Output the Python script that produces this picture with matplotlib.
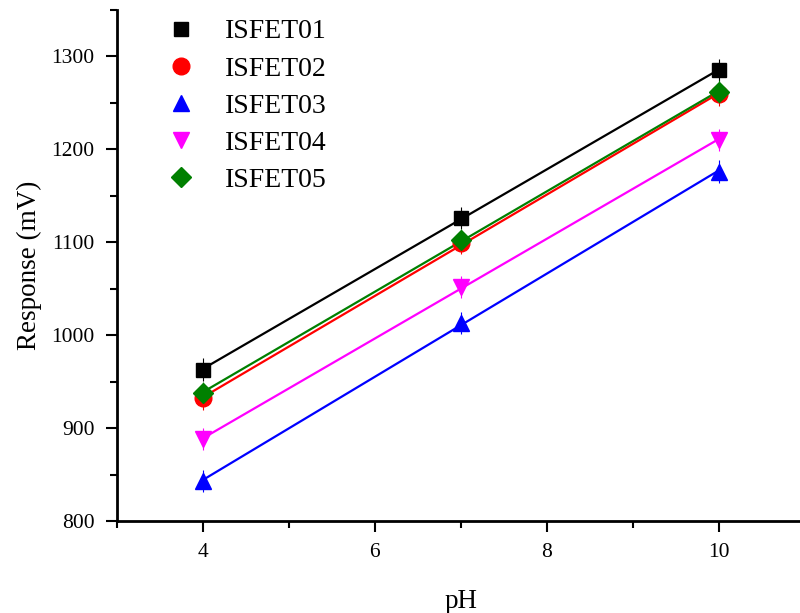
import numpy as np
import matplotlib
matplotlib.use("Agg")
import matplotlib.pyplot as plt
from matplotlib.ticker import MultipleLocator

plt.rcParams['font.family'] = ['Liberation Serif', 'DejaVu Serif']

ph = [4, 7, 10]
isfet01 = [963, 1126, 1285]
isfet02 = [932, 1099, 1259]
isfet03 = [843, 1013, 1176]
isfet04 = [888, 1052, 1210]
isfet05 = [938, 1102, 1262]
errs = [12, 12, 12]
names = ['ISFET01', 'ISFET02', 'ISFET03', 'ISFET04', 'ISFET05']
series = [isfet01, isfet02, isfet03, isfet04, isfet05]
colors = ['black', 'red', 'blue', 'magenta', 'green']
markers = ['s', 'o', '^', 'v', 'D']
msizes = [10, 12, 12, 12, 10]

fig = plt.figure(figsize=(8, 6.13), dpi=100)
ax = fig.add_axes([0.146, 0.150, 0.86, 0.834])

x = np.array(ph, dtype=float)
for name, ys, c, m, ms in zip(names, series, colors, markers, msizes):
    ys = np.array(ys, dtype=float)
    k, b = np.polyfit(x, ys, 1)
    ax.plot(x, k * x + b, color=c, lw=1.6, zorder=2)
    ax.errorbar(x, ys, yerr=errs, fmt='none', ecolor=c, elinewidth=0.8, capsize=0, zorder=3)
    ax.plot(x, ys, linestyle='none', marker=m, color=c, markersize=ms, label=name, zorder=4)

ax.set_xlim(3, 11)
ax.set_ylim(800, 1350)
ax.xaxis.set_minor_locator(MultipleLocator(1))
ax.yaxis.set_minor_locator(MultipleLocator(50))
ax.set_xticks([4, 6, 8, 10])
ax.set_yticks([800, 900, 1000, 1100, 1200, 1300])

for s in ['top', 'right']:
    ax.spines[s].set_visible(False)
for s in ['left', 'bottom']:
    ax.spines[s].set_linewidth(2)

ax.tick_params(which='major', direction='out', length=8, width=1.5, labelsize=15.5, pad=8)
ax.tick_params(which='minor', direction='out', length=5, width=1.5)

ax.set_xlabel('pH', fontsize=19.5, labelpad=19)
ax.set_ylabel('Response (mV)', fontsize=19.5, labelpad=7)

leg = fig.legend(*ax.get_legend_handles_labels(), loc='upper left',
                 bbox_to_anchor=(153 / 800, 1 - 19 / 613), bbox_transform=fig.transFigure,
                 frameon=False, fontsize=20, handletextpad=0.6, labelspacing=0.42,
                 borderpad=0, borderaxespad=0, numpoints=1)

fig.savefig('out.png', dpi=100)
